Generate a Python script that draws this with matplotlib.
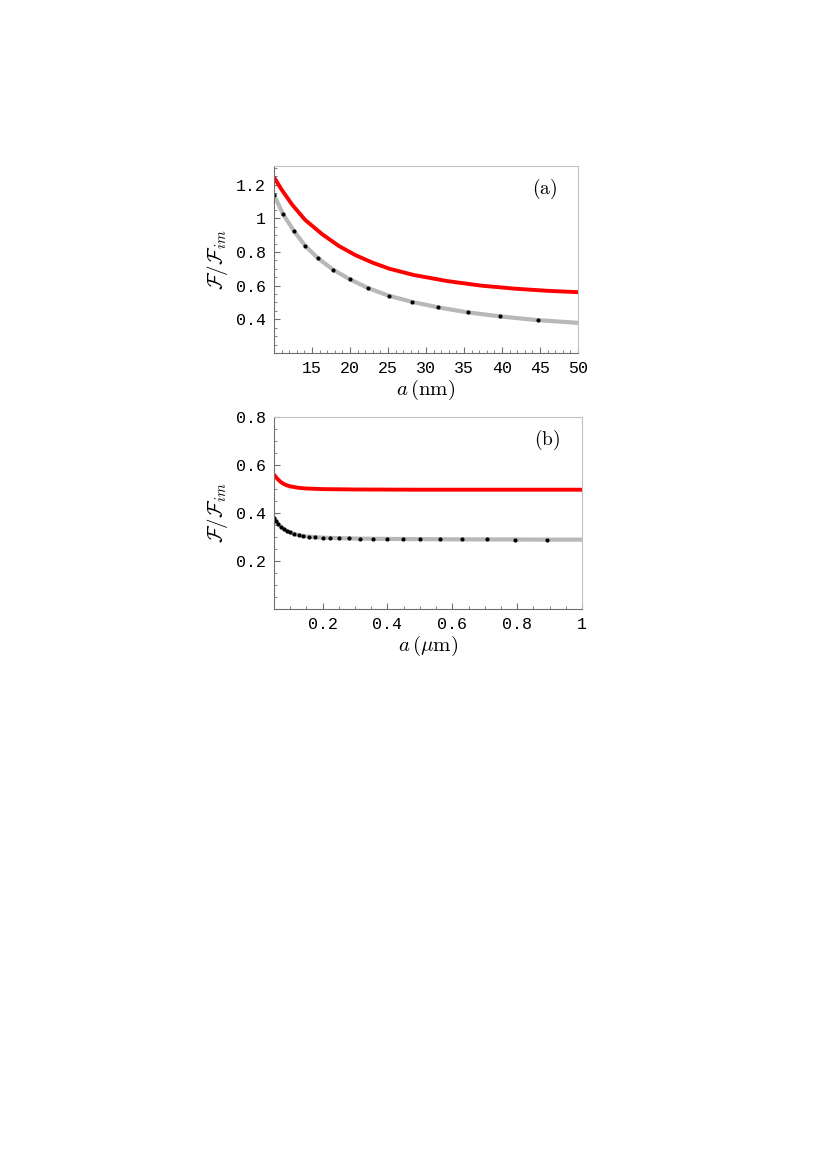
import numpy as np
import matplotlib.pyplot as plt
from matplotlib.ticker import MultipleLocator, FixedLocator

plt.rcParams['mathtext.fontset'] = 'cm'

# panel (a): a in nm
a_nm_dots = [10.0, 11.2, 12.6, 14.1, 15.8, 17.8, 20.0, 22.4, 25.1, 28.2, 31.6, 35.5, 39.8, 44.7]
gray_a_dots = [1.139, 1.024, 0.926, 0.837, 0.762, 0.694, 0.637, 0.585, 0.540, 0.503, 0.471, 0.441, 0.417, 0.395]
a_nm_gray = a_nm_dots + [50.0]
gray_a = gray_a_dots + [0.379]
a_nm_red = [10, 11, 12.4, 14.1, 16.35, 18.55, 20.75, 23, 25.2, 28.4, 32.8, 37.25, 41.65, 46.05, 50]
red_a = [1.244, 1.170, 1.080, 0.990, 0.905, 0.835, 0.780, 0.736, 0.700, 0.663, 0.627, 0.600, 0.582, 0.569, 0.561]

# panel (b): a in micrometres
a_um_dots = [0.0501, 0.0562, 0.0631, 0.0708, 0.0794, 0.0891, 0.1, 0.112, 0.126, 0.141,
             0.158, 0.178, 0.2, 0.224, 0.251, 0.282, 0.316, 0.355, 0.398, 0.447,
             0.501, 0.562, 0.631, 0.708, 0.794, 0.891]
gray_b_dots = [0.379, 0.366, 0.354, 0.343, 0.334, 0.326, 0.319, 0.313, 0.308, 0.304,
               0.301, 0.299, 0.297, 0.296, 0.295, 0.294, 0.293, 0.2925, 0.292, 0.2915,
               0.291, 0.2905, 0.290, 0.290, 0.2895, 0.289]
a_um_gray = a_um_dots + [1.0]
gray_b = gray_b_dots + [0.289]
a_um_red = [0.05, 0.055, 0.06, 0.07, 0.08, 0.09, 0.1, 0.125, 0.15, 0.2, 0.3, 0.5, 1.0]
red_b = [0.561, 0.551, 0.543, 0.530, 0.521, 0.515, 0.511, 0.505, 0.502, 0.4995, 0.498, 0.497, 0.497]

red = '#ff0000'
gray = '#b8b8b8'
mono = 'Liberation Mono'


def style_axes(ax):
    for side in ['left', 'bottom']:
        ax.spines[side].set_color('#707070')
    for side in ['top', 'right']:
        ax.spines[side].set_color('#c0c0c0')
    for sp in ax.spines.values():
        sp.set_linewidth(0.8)
    ax.tick_params(which='both', direction='in', top=False, right=False,
                   color='#707070', labelsize=12, pad=6)
    ax.tick_params(which='major', length=4, width=0.8)
    ax.tick_params(which='minor', length=2, width=0.6)
    for lab in ax.get_xticklabels() + ax.get_yticklabels():
        lab.set_fontfamily(mono)


fig = plt.figure(figsize=(8.28, 11.7), dpi=100)

# (a)
ax1 = fig.add_axes([0.3309, 0.6983, 0.3671, 0.1598])
ax1.plot(a_nm_gray, gray_a, color=gray, lw=3.0, solid_capstyle='butt')
ax1.plot(a_nm_dots, gray_a_dots, 'o', color='black', ms=3.0, mew=0)
ax1.plot(a_nm_red, red_a, color=red, lw=2.8, solid_capstyle='butt', solid_joinstyle='round')
ax1.set_xlim(10, 50)
ax1.set_ylim(0.2, 1.31)
ax1.xaxis.set_major_locator(FixedLocator([15, 20, 25, 30, 35, 40, 45, 50]))
ax1.xaxis.set_minor_locator(MultipleLocator(1))
ax1.set_xticklabels(['15', '20', '25', '30', '35', '40', '45', '50'])
ax1.yaxis.set_major_locator(FixedLocator([0.4, 0.6, 0.8, 1.0, 1.2]))
ax1.yaxis.set_minor_locator(MultipleLocator(0.05))
ax1.set_yticklabels(['0.4', '0.6', '0.8', '1', '1.2'])
style_axes(ax1)
ax1.set_xlabel(r'$a\,(\mathrm{nm})$', fontsize=15, labelpad=1)
ax1.set_ylabel(r'$\mathcal{F}/\mathcal{F}_{im}$', fontsize=15, labelpad=4)
ax1.text(0.93, 0.88, r'$\mathrm{(a)}$', transform=ax1.transAxes,
         fontsize=14, ha='right', va='center')

# (b)
ax2 = fig.add_axes([0.3309, 0.4795, 0.372, 0.1641])
ax2.plot(a_um_gray, gray_b, color=gray, lw=3.0, solid_capstyle='butt')
ax2.plot(a_um_dots, gray_b_dots, 'o', color='black', ms=3.0, mew=0)
ax2.plot(a_um_red, red_b, color=red, lw=2.8, solid_capstyle='butt', solid_joinstyle='round')
ax2.set_xlim(0.05, 1.0)
ax2.set_ylim(0.0, 0.8)
ax2.xaxis.set_major_locator(FixedLocator([0.2, 0.4, 0.6, 0.8, 1.0]))
ax2.xaxis.set_minor_locator(MultipleLocator(0.05))
ax2.set_xticklabels(['0.2', '0.4', '0.6', '0.8', '1'])
ax2.yaxis.set_major_locator(FixedLocator([0.2, 0.4, 0.6, 0.8]))
ax2.yaxis.set_minor_locator(MultipleLocator(0.05))
ax2.set_yticklabels(['0.2', '0.4', '0.6', '0.8'])
style_axes(ax2)
ax2.set_xlabel(r'$a\,(\mu\mathrm{m})$', fontsize=15, labelpad=1)
ax2.set_ylabel(r'$\mathcal{F}/\mathcal{F}_{im}$', fontsize=15, labelpad=4)
ax2.text(0.93, 0.88, r'$\mathrm{(b)}$', transform=ax2.transAxes,
         fontsize=14, ha='right', va='center')

fig.savefig('out.png', dpi=100)
